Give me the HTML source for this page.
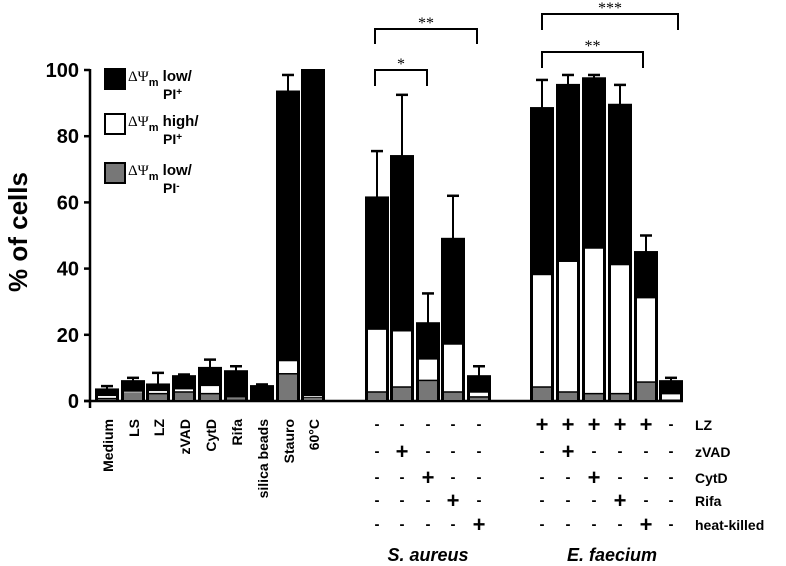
<!DOCTYPE html>
<html><head><meta charset="utf-8"><style>
body{margin:0;background:#fff}
svg{display:block;font-family:"Liberation Sans",sans-serif}
</style></head><body>
<svg id="chart" width="786" height="566" viewBox="0 0 786 566" xmlns="http://www.w3.org/2000/svg"></svg>
<script>
const categories=["Medium","LS","LZ","zVAD","CytD","Rifa","silica beads","Stauro","60°C","SA-1","SA-2","SA-3","SA-4","SA-5","EF-1","EF-2","EF-3","EF-4","EF-5","EF-6"];
const grayValues=[0.5,2.5,2,2.5,2,0.5,0,8,1,2.5,4,6,2.5,1,4,2.5,2,2,5.5,0];
const whiteTops=[1.5,2.8,3,3.5,4.5,1,0,12,1.5,21.5,21,12.5,17,2.5,38,42,46,41,31,2];
const totals=[3.5,6,5,7.5,10,9,4.5,93.5,100,61.5,74,23.5,49,7.5,88.5,95.5,97.5,89.5,45,6];
const errTops=[4.5,7,8.5,8,12.5,10.5,5,98.5,null,75.5,92.5,32.5,62,10.5,97,98.5,98.5,95.5,50,7];
const yTicks=[0,20,40,60,80,100];
const barLefts=[96,122,147,173,199,225,251,277,302,366,391,417,442,468,531,557,583,609,635,660];
const BW=22;
const svg=document.getElementById('chart');
const NS='http://www.w3.org/2000/svg';
function y(v){return 401-v*3.31;}
function el(tag,attrs,parent){const e=document.createElementNS(NS,tag);for(const k in attrs)e.setAttribute(k,attrs[k]);(parent||svg).appendChild(e);return e;}
function txt(s,attrs){const t=el('text',attrs);t.textContent=s;return t;}
let a=el('line',{x1:90,y1:69,x2:90,y2:408,stroke:'#000','stroke-width':2.5});


a=el('line',{x1:84,y1:401,x2:683,y2:401,stroke:'#000','stroke-width':2.5});


yTicks.forEach(v=>{
  const l=el('line',{x1:84,y1:y(v),x2:90,y2:y(v),stroke:'#000','stroke-width':2.5});
  
  
  const t=txt(String(v),{x:79,y:y(v)+7,'text-anchor':'end','font-size':20,'font-weight':'bold'});
  
  
});
let yt=txt('% of cells',{x:0,y:0,transform:'translate(27,232) rotate(-90)','text-anchor':'middle','font-size':26,'font-weight':'bold'});


categories.forEach((c,i)=>{
  const x=barLefts[i];
  const g=el('g',{});
  
  
  el('rect',{x:x,y:y(totals[i]),width:BW,height:y(0)-y(totals[i]),fill:'#000',stroke:'#000','stroke-width':2},g);
  if(whiteTops[i]>grayValues[i]){
    const h=y(grayValues[i])-y(whiteTops[i]);
    el('rect',{x:x+2,y:y(whiteTops[i]),width:BW-4,height:Math.max(h-1.5,0.8),fill:'#fff'},g);
  }
  if(grayValues[i]>0){
    el('rect',{x:x+2,y:y(grayValues[i]),width:BW-4,height:y(0)-y(grayValues[i])-1,fill:'#777'},g);
  }
  if(errTops[i]!==null){
    el('line',{x1:x+BW/2,y1:y(totals[i]),x2:x+BW/2,y2:y(errTops[i]),stroke:'#000','stroke-width':2},g);
    el('line',{x1:x+BW/2-6,y1:y(errTops[i]),x2:x+BW/2+6,y2:y(errTops[i]),stroke:'#000','stroke-width':2.5},g);
  }
});
for(let i=0;i<9;i++){
  const cx=barLefts[i]+BW/2+6;
  const t=txt(categories[i],{x:0,y:0,transform:`translate(${cx},419) rotate(-90)`,'text-anchor':'end','font-size':14,'font-weight':'bold'});
  
  
}
const rowNames=["LZ","zVAD","CytD","Rifa","heat-killed"];
const rowY=[429,456,482,505,529];
const saSigns=["-----","-+---","--+--","---+-","----+"];
const efSigns=["+++++-","-+----","--+---","---+--","----+-"];
rowNames.forEach((r,ri)=>{
  for(let j=0;j<5;j++){
    const s=saSigns[ri][j];
    const t=txt(s==='+'?'+':'-',{x:barLefts[9+j]+BW/2,y:rowY[ri]+(s==='+'?3:0),'text-anchor':'middle','font-size':s==='+'?22:15,'font-weight':'bold'});
    
    
  }
  for(let j=0;j<6;j++){
    const s=efSigns[ri][j];
    const t=txt(s==='+'?'+':'-',{x:barLefts[14+j]+BW/2,y:rowY[ri]+(s==='+'?3:0),'text-anchor':'middle','font-size':s==='+'?22:15,'font-weight':'bold'});
    
    
  }
  const t=txt(r,{x:695,y:rowY[ri]+1,'font-size':14,'font-weight':'bold'});
  
  
});
let g1=txt('S. aureus',{x:428,y:561,'text-anchor':'middle','font-size':18,'font-weight':'bold','font-style':'italic'});


let g2=txt('E. faecium',{x:612,y:561,'text-anchor':'middle','font-size':18,'font-weight':'bold','font-style':'italic'});


const brackets=[[375,477,29,44,'**'],[375,427,70,86,'*'],[542,678,14,30,'***'],[542,643,52,68,'**']];
brackets.forEach(b=>{
  const p=el('path',{d:`M${b[0]},${b[3]} V${b[2]} H${b[1]} V${b[3]}`,fill:'none',stroke:'#000','stroke-width':2});
  
  
  const t=txt(b[4],{x:(b[0]+b[1])/2,y:b[2]-1,'text-anchor':'middle','font-size':16,'font-family':'Liberation Serif'});
  
  
});
const legend=[['#000',68,'low/','+'],['#fff',113,'high/','+'],['#777',162,'low/','-']];
legend.forEach(l=>{
  const g=el('g',{});
  
  
  el('rect',{x:105,y:l[1]+1,width:20,height:20,fill:l[0],stroke:'#000','stroke-width':2},g);
  const t=el('text',{x:128,y:l[1]+13,'font-size':15,'font-weight':'bold'},g);
  t.innerHTML=`<tspan font-family="Liberation Serif" font-weight="normal">ΔΨ</tspan><tspan font-size="11" dy="5">m</tspan><tspan dy="-5"> ${l[2]}</tspan>`;
  const t2=el('text',{x:163,y:l[1]+31,'font-size':14,'font-weight':'bold'},g);
  t2.innerHTML=`PI<tspan font-size="10" dy="-4">${l[3]}</tspan>`;
});
</script>
</body></html>
